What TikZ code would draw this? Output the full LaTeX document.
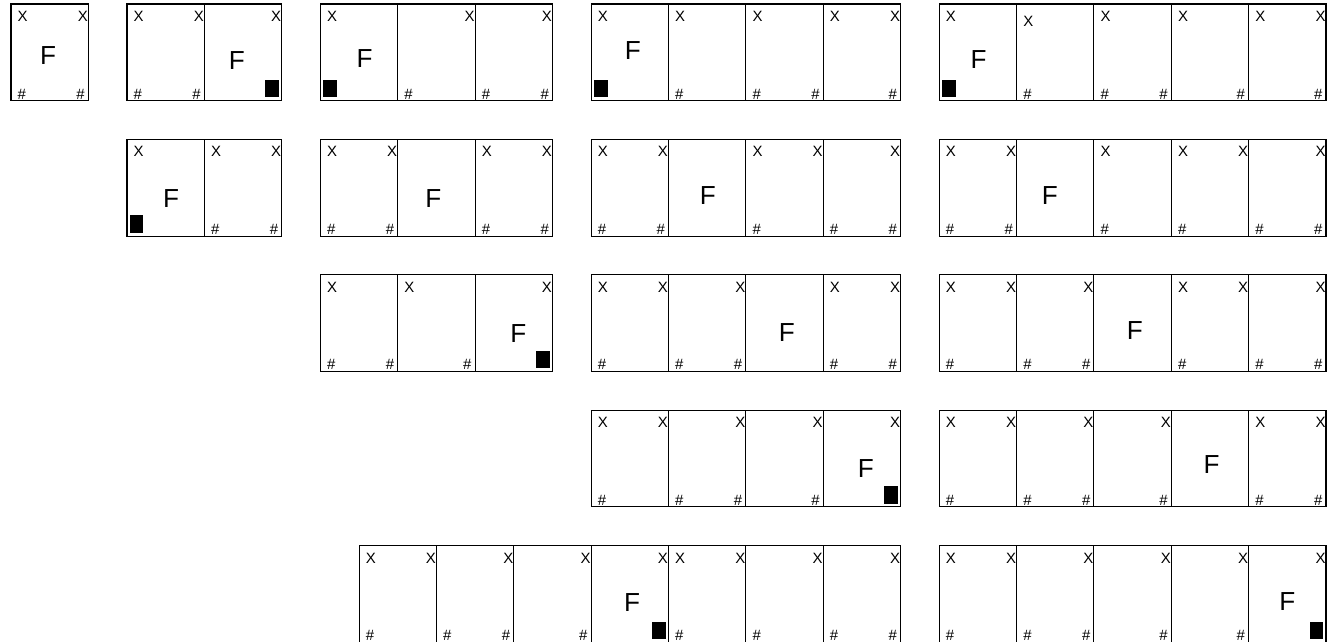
\documentclass[tikz,border=0pt]{standalone}
\usepackage{fontspec}
\setsansfont{Liberation Sans}
\usepackage{tikz}
\usetikzlibrary{positioning}
\tikzset{every picture/.style={/utils/exec={\sffamily}}}

\begin{document}
\begin{tikzpicture}[thin,
    cell/.style={draw, rectangle, minimum width=1cm, minimum height=1.25cm, inner sep=0pt, outer sep=0pt, anchor=north west},
    tagtext/.style={inner sep=0pt, font=\fontsize{5.5}{6}\selectfont},
    blk/.style={fill=black, minimum width=0.175cm, minimum height=0.225cm, inner sep=0pt},
    xl/.style={label={[tagtext, anchor=west, xshift=0.08cm, yshift=-0.16cm]north west:X}},
    xlo/.style={label={[tagtext, anchor=west, xshift=0.08cm, yshift=-0.225cm]north west:X}},
    xr/.style={label={[tagtext, anchor=east, yshift=-0.16cm]north east:X}},
    hl/.style={label={[tagtext, anchor=west, xshift=0.08cm, yshift=0.087cm]south west:\#}},
    hr/.style={label={[tagtext, anchor=east, xshift=-0.04cm, yshift=0.087cm]south east:\#}},
    ftag/.style 2 args={label={[inner sep=0pt, font=\fontsize{9.6}{11}\selectfont, anchor=center, xshift=#1cm, yshift=#2cm]center:F}},
    bl/.style={label={[blk, anchor=south west, xshift=0.03cm, yshift=0.035cm]south west:{}}},
    br/.style={label={[blk, anchor=south east, xshift=-0.03cm, yshift=0.035cm]south east:{}}}]
        \useasboundingbox (-0.142, 0.052) rectangle (17.013, -8.235);

        % Row 1
        \node[cell, xl, xr, hl, hr, ftag={-0.02}{-0.04}] (1a) at (0, 0) {};

        \node[cell, xl, xr, hl, hr] (1b1) at (1.5, 0) {};
        \node[cell, xr, ftag={-0.08}{-0.11}, br, right=0pt of 1b1] (1b2) {};

        \node[cell, xl, ftag={0.07}{-0.08}, bl] (1c1) at (4, 0) {};
        \node[cell, xr, hl, right=0pt of 1c1] (1c2) {};
        \node[cell, xr, hl, hr, right=0pt of 1c2] (1c3) {};

        \node[cell, xl, ftag={0.04}{0.025}, bl] (1d1) at (7.5, 0) {};
        \node[cell, xl, hl, right=0pt of 1d1] (1d2) {};
        \node[cell, xl, hl, hr, right=0pt of 1d2] (1d3) {};
        \node[cell, xl, xr, hr, right=0pt of 1d3] (1d4) {};

        \node[cell, xl, ftag={0.01}{-0.095}, bl] (1e1) at (12, 0) {};
        \node[cell, xlo, hl, right=0pt of 1e1] (1e2) {};
        \node[cell, xl, hl, hr, right=0pt of 1e2] (1e3) {};
        \node[cell, xl, hr, right=0pt of 1e3] (1e4) {};
        \node[cell, xl, xr, hr, right=0pt of 1e4] (1e5) {};

        % Row 2
        \node[cell, xl, ftag={0.07}{-0.135}, bl] (2b1) at (1.5, -1.75) {};
        \node[cell, xl, xr, hl, hr, right=0pt of 2b1] (2b2) {};

        \node[cell, xl, xr, hl, hr] (2c1) at (4, -1.75) {};
        \node[cell, ftag={-0.04}{-0.14}, right=0pt of 2c1] (2c2) {};
        \node[cell, xl, xr, hl, hr, right=0pt of 2c2] (2c3) {};

        \node[cell, xl, xr, hl, hr] (2d1) at (7.5, -1.75) {};
        \node[cell, ftag={0.01}{-0.095}, right=0pt of 2d1] (2d2) {};
        \node[cell, xl, xr, hl, right=0pt of 2d2] (2d3) {};
        \node[cell, xr, hl, hr, right=0pt of 2d3] (2d4) {};

        \node[cell, xl, xr, hl, hr] (2e1) at (12, -1.75) {};
        \node[cell, ftag={-0.07}{-0.095}, right=0pt of 2e1] (2e2) {};
        \node[cell, xl, hl, right=0pt of 2e2] (2e3) {};
        \node[cell, xl, xr, hl, right=0pt of 2e3] (2e4) {};
        \node[cell, xr, hl, hr, right=0pt of 2e4] (2e5) {};

        % Row 3
        \node[cell, xl, hl, hr] (3c1) at (4, -3.5) {};
        \node[cell, xl, hr, right=0pt of 3c1] (3c2) {};
        \node[cell, xr, ftag={0.06}{-0.13}, br, right=0pt of 3c2] (3c3) {};

        \node[cell, xl, xr, hl] (3d1) at (7.5, -3.5) {};
        \node[cell, xr, hl, hr, right=0pt of 3d1] (3d2) {};
        \node[cell, ftag={0.03}{-0.125}, right=0pt of 3d2] (3d3) {};
        \node[cell, xl, xr, hl, hr, right=0pt of 3d3] (3d4) {};

        \node[cell, xl, xr, hl] (3e1) at (12, -3.5) {};
        \node[cell, xr, hl, hr, right=0pt of 3e1] (3e2) {};
        \node[cell, ftag={0.03}{-0.095}, right=0pt of 3e2] (3e3) {};
        \node[cell, xl, xr, hl, right=0pt of 3e3] (3e4) {};
        \node[cell, xr, hl, hr, right=0pt of 3e4] (3e5) {};

        % Row 4
        \node[cell, xl, xr, hl] (4d1) at (7.5, -5.25) {};
        \node[cell, xr, hl, hr, right=0pt of 4d1] (4d2) {};
        \node[cell, xr, hr, right=0pt of 4d2] (4d3) {};
        \node[cell, xr, ftag={0.05}{-0.125}, br, right=0pt of 4d3] (4d4) {};

        \node[cell, xl, xr, hl] (4e1) at (12, -5.25) {};
        \node[cell, xr, hl, hr, right=0pt of 4e1] (4e2) {};
        \node[cell, xr, hr, right=0pt of 4e2] (4e3) {};
        \node[cell, ftag={0.02}{-0.08}, right=0pt of 4e3] (4e4) {};
        \node[cell, xl, xr, hl, hr, right=0pt of 4e4] (4e5) {};

        % Row 5
        \node[cell, xl, xr, hl] (5a1) at (4.5, -7) {};
        \node[cell, xr, hl, hr, right=0pt of 5a1] (5a2) {};
        \node[cell, xr, hr, right=0pt of 5a2] (5a3) {};
        \node[cell, xr, ftag={0.03}{-0.11}, br, right=0pt of 5a3] (5a4) {};
        \node[cell, xl, xr, hl, right=0pt of 5a4] (5a5) {};
        \node[cell, xr, hl, right=0pt of 5a5] (5a6) {};
        \node[cell, xr, hl, hr, right=0pt of 5a6] (5a7) {};

        \node[cell, xl, xr, hl] (5e1) at (12, -7) {};
        \node[cell, xr, hl, hr, right=0pt of 5e1] (5e2) {};
        \node[cell, xr, hr, right=0pt of 5e2] (5e3) {};
        \node[cell, xr, hr, right=0pt of 5e3] (5e4) {};
        \node[cell, xr, ftag={0.0}{-0.1}, br, right=0pt of 5e4] (5e5) {};
    \end{tikzpicture}
\end{document}
